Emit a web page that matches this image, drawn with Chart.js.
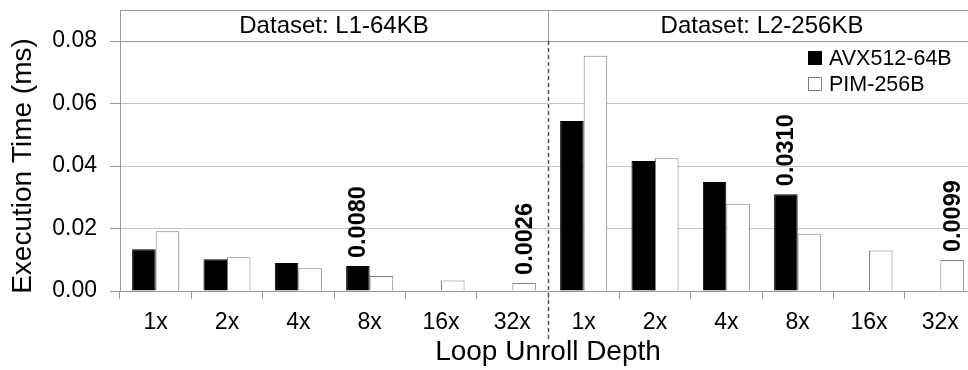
<!DOCTYPE html>
<html>
<head>
<meta charset="utf-8">
<script src="https://cdn.jsdelivr.net/npm/chart.js@4"></script>
<style>
  html, body { margin: 0; padding: 0; background: #fff; overflow: hidden; }
  #wrap { position: relative; width: 980px; height: 370px; }
</style>
</head>
<body>
<div id="wrap"><canvas id="chart"></canvas></div>
<script>
const unrollDepths = ["1x", "2x", "4x", "8x", "16x", "32x"];
const panelTitles = ["Dataset: L1-64KB", "Dataset: L2-256KB"];
const avx512L1 = [0.0134, 0.0102, 0.009, 0.008, null, null];
const avx512L2 = [0.0544, 0.0416, 0.0349, 0.031, null, null];
const pimL1 = [0.0191, 0.0108, 0.0073, 0.0048, 0.0034, 0.0026];
const pimL2 = [0.0753, 0.0425, 0.0279, 0.0183, 0.013, 0.0099];
const yTicks = [0, 0.02, 0.04, 0.06, 0.08];
// bar indexes (both panels together) whose value is printed above the bar
const avxLabelled = [3, 9];
const pimLabelled = [5, 11];

const FONT = "'Liberation Sans', Arial, sans-serif";
Chart.defaults.font.family = FONT;
Chart.defaults.color = "#000";

const headerPlugin = {
  id: "header",
  afterDraw(chart) {
    const { ctx, chartArea } = chart;
    const x = chart.scales.x;
    const mid = (x.getPixelForValue(5) + x.getPixelForValue(6)) / 2;
    const top = 10;
    ctx.save();
    ctx.strokeStyle = "#999";
    ctx.lineWidth = 1;
    ctx.strokeRect(chartArea.left + 0.5, top + 0.5, chartArea.right - chartArea.left, chartArea.top - top);
    ctx.beginPath();
    ctx.moveTo(Math.round(mid) + 0.5, top);
    ctx.lineTo(Math.round(mid) + 0.5, chartArea.top);
    ctx.stroke();
    ctx.font = "24px " + FONT;
    ctx.fillStyle = "#000";
    ctx.textAlign = "center";
    ctx.textBaseline = "middle";
    const cy = (top + chartArea.top) / 2 + 1;
    ctx.fillText(panelTitles[0], (chartArea.left + mid) / 2, cy);
    ctx.fillText(panelTitles[1], (mid + chartArea.right) / 2, cy);

    // dashed separator between the two datasets
    ctx.strokeStyle = "#555";
    ctx.lineWidth = 1.5;
    ctx.setLineDash([4, 3]);
    ctx.beginPath();
    ctx.moveTo(Math.round(mid) + 0.5, chartArea.top);
    ctx.lineTo(Math.round(mid) + 0.5, 340);
    ctx.stroke();
    ctx.setLineDash([]);

    // legend
    chart.data.datasets.forEach((ds, i) => {
      const lx = chartArea.right - 168;
      const ly = 51 + i * 26;
      ctx.fillStyle = ds.backgroundColor;
      ctx.fillRect(lx, ly, 14, 14);
      ctx.strokeStyle = ds.borderColor;
      ctx.lineWidth = 1;
      ctx.strokeRect(lx + 0.5, ly + 0.5, 13, 13);
      ctx.fillStyle = "#000";
      ctx.font = "21.5px " + FONT;
      ctx.textAlign = "left";
      ctx.textBaseline = "middle";
      ctx.fillText(ds.label, lx + 21, ly + 8);
    });
    ctx.restore();
  },
};

const valueLabels = {
  id: "valueLabels",
  afterDatasetsDraw(chart) {
    const { ctx } = chart;
    const wanted = [avxLabelled, pimLabelled];
    ctx.save();
    ctx.font = "bold 23.5px " + FONT;
    ctx.fillStyle = "#000";
    ctx.textAlign = "left";
    ctx.textBaseline = "middle";
    chart.data.datasets.forEach((ds, di) => {
      const meta = chart.getDatasetMeta(di);
      wanted[di].forEach((idx) => {
        const bar = meta.data[idx];
        ctx.save();
        ctx.translate(bar.x, bar.y - 8);
        ctx.rotate(-Math.PI / 2);
        ctx.fillText(ds.data[idx].toFixed(4), 0, 1);
        ctx.restore();
      });
    });
    ctx.restore();
  },
};

new Chart(document.getElementById("chart"), {
  type: "bar",
  data: {
    labels: [...unrollDepths, ...unrollDepths],
    datasets: [
      {
        label: "AVX512-64B",
        data: [...avx512L1, ...avx512L2],
        backgroundColor: "#000",
        borderColor: "#000",
        borderWidth: 1,
        barPercentage: 1,
        categoryPercentage: 0.66,
      },
      {
        label: "PIM-256B",
        data: [...pimL1, ...pimL2],
        backgroundColor: "#fff",
        borderColor: "#808080",
        borderWidth: 1,
        barPercentage: 1,
        categoryPercentage: 0.66,
      },
    ],
  },
  options: {
    responsive: true,
    maintainAspectRatio: false,
    animation: false,
    layout: { padding: { top: 41, right: 4, left: 0, bottom: 0 } },
    plugins: { legend: { display: false }, tooltip: { enabled: false } },
    scales: {
      x: {
        afterFit: (s) => { s.height = 79; },
        grid: { drawOnChartArea: false, offset: true, tickLength: 8, tickColor: "#999" },
        border: { color: "#999" },
        ticks: { font: { size: 23 }, padding: 10, maxRotation: 0, autoSkip: false },
        title: {
          display: true,
          text: "Loop Unroll Depth",
          font: { size: 28 },
          padding: { top: 0, bottom: 1 },
        },
      },
      y: {
        min: 0,
        max: 0.08,
        afterFit: (s) => { s.width = 120; },
        afterBuildTicks: (s) => { s.ticks = yTicks.map((v) => ({ value: v })); },
        grid: { color: "#c4c4c4", tickLength: 10, tickColor: "#999" },
        border: { color: "#999" },
        ticks: { font: { size: 23 }, padding: 13, callback: (v) => v.toFixed(2) },
        title: {
          display: true,
          text: "Execution Time (ms)",
          font: { size: 28 },
          padding: { top: 6, bottom: 0 },
        },
      },
    },
  },
  plugins: [headerPlugin, valueLabels],
});
</script>
</body>
</html>
